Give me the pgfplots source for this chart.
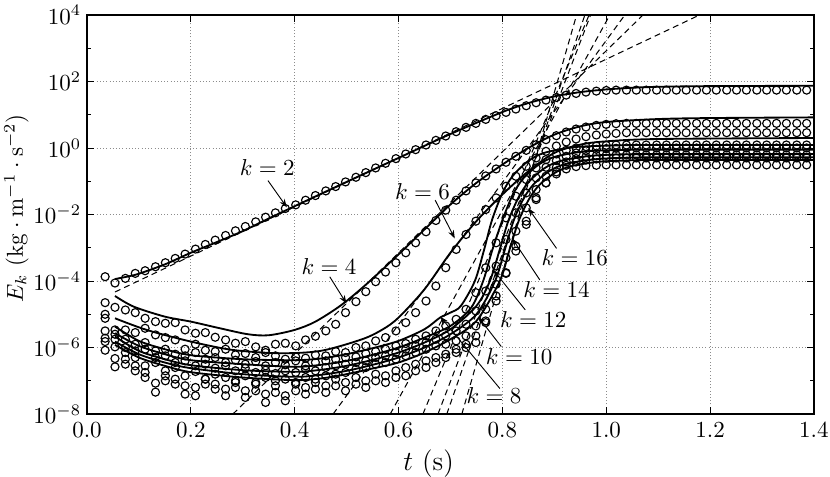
\documentclass[border=0pt]{standalone}
\usepackage{pgfplots}
\pgfplotsset{compat=1.18}
\usepackage{pgfplotstable}
\usetikzlibrary{arrows.meta}

\tikzset{arr/.style={-{Stealth[length=3.6pt,width=2.6pt]}, line width=0.4pt}}

% circle samples, values are log10(E_k)
\pgfplotstableread{
t     c2    c4    c6    c8    c10   c12   c14   c16
0.035 -3.87 -4.65 -5.00 -5.12 -5.50 -5.72 -5.82 -6.08
0.054 -4.06 -4.79 -5.47 -5.60 -5.75 -5.98 -6.33 -6.58
0.074 -3.92 -4.87 -5.47 -5.75 -6.00 -6.15 -6.35 -6.50
0.093 -3.77 -4.95 -5.55 -5.90 -6.10 -6.30 -6.55 -6.70
0.112 -3.69 -5.12 -5.42 -5.85 -6.05 -6.55 -6.75 -6.90
0.132 -3.57 -5.22 -5.62 -6.10 -6.30 -6.45 -7.07 -7.34
0.151 -3.45 -5.27 -5.70 -6.05 -6.25 -6.70 -6.85 -7.00
0.170 -3.32 -5.25 -5.77 -6.20 -6.45 -6.60 -6.95 -7.10
0.189 -3.19 -5.47 -6.05 -6.25 -6.40 -6.85 -7.15 -7.40
0.209 -3.04 -5.57 -5.90 -6.15 -6.55 -6.72 -7.20 -7.45
0.228 -2.90 -5.55 -6.08 -6.35 -6.50 -6.95 -6.95 -7.10
0.247 -2.77 -5.69 -6.12 -6.30 -6.62 -6.80 -7.10 -7.25
0.267 -2.63 -5.77 -6.05 -6.45 -6.55 -6.90 -7.25 -7.45
0.286 -2.49 -5.87 -6.22 -6.38 -6.70 -7.00 -7.05 -7.20
0.305 -2.36 -5.82 -6.18 -6.50 -6.62 -6.85 -7.30 -7.50
0.325 -2.22 -5.98 -6.30 -6.42 -6.75 -7.05 -7.10 -7.30
0.344 -2.08 -6.08 -6.15 -6.55 -6.68 -6.90 -7.40 -7.65
0.363 -1.95 -5.90 -6.25 -6.45 -6.78 -7.00 -7.15 -7.35
0.382 -1.82 -5.87 -6.35 -6.52 -6.70 -6.95 -7.45 -7.60
0.402 -1.71 -5.95 -6.28 -6.40 -6.75 -7.05 -7.10 -7.30
0.421 -1.57 -5.77 -6.32 -6.55 -6.65 -6.90 -7.20 -7.40
0.440 -1.43 -5.66 -6.22 -6.45 -6.70 -6.95 -7.05 -7.25
0.460 -1.29 -5.50 -6.25 -6.40 -6.60 -6.85 -7.15 -7.35
0.479 -1.16 -5.30 -6.12 -6.35 -6.55 -6.80 -6.95 -7.15
0.498 -1.02 -4.95 -6.15 -6.30 -6.50 -6.75 -7.05 -7.30
0.518 -0.88 -4.62 -6.00 -6.28 -6.45 -6.65 -6.90 -7.10
0.537 -0.74 -4.32 -5.95 -6.18 -6.40 -6.60 -7.00 -7.20
0.556 -0.60 -4.02 -5.80 -6.12 -6.30 -6.50 -6.80 -7.00
0.575 -0.46 -3.73 -5.70 -6.05 -6.25 -6.45 -6.85 -7.05
0.595 -0.32 -3.45 -5.50 -5.95 -6.15 -6.35 -6.70 -6.90
0.614 -0.18 -3.15 -5.25 -5.88 -6.05 -6.25 -6.60 -6.85
0.633 -0.05 -2.85 -4.95 -5.75 -5.95 -6.15 -6.50 -6.70
0.653  0.09 -2.52 -4.60 -5.65 -5.85 -6.05 -6.40 -6.60
0.672  0.23 -2.18 -4.15 -5.50 -5.75 -5.95 -6.30 -6.45
0.691  0.36 -1.87 -3.60 -5.35 -5.65 -5.90 -6.20 -6.30
0.711  0.49 -1.57 -3.05 -5.15 -5.50 -5.80 -6.05 -6.15
0.730  0.62 -1.29 -2.60 -4.85 -5.30 -5.65 -5.90 -6.00
0.749  0.74 -1.05 -2.20 -4.35 -4.90 -5.35 -5.65 -5.85
0.768  0.86 -0.84 -1.85 -3.60 -4.30 -4.85 -5.25 -5.20
0.788  0.97 -0.63 -1.50 -2.85 -3.55 -4.10 -4.60 -4.45
0.807  1.07 -0.43 -1.15 -2.10 -2.75 -3.30 -3.75 -3.77
0.826  1.17 -0.25 -0.85 -1.45 -1.95 -2.50 -2.95 -3.10
0.846  1.27 -0.07 -0.55 -0.95 -1.35 -1.80 -2.20 -2.30
0.865  1.36  0.10 -0.30 -0.60 -0.90 -1.25 -1.55 -1.50
0.884  1.44  0.25 -0.10 -0.35 -0.58 -0.85 -1.05 -1.05
0.904  1.52  0.37  0.06 -0.18 -0.38 -0.58 -0.72 -0.78
0.923  1.59  0.48  0.18 -0.07 -0.25 -0.42 -0.52 -0.63
0.942  1.64  0.57  0.27  0.00 -0.15 -0.32 -0.42 -0.56
0.961  1.68  0.63  0.34  0.04 -0.08 -0.26 -0.36 -0.53
0.981  1.71  0.68  0.39  0.06 -0.04 -0.23 -0.33 -0.52
1.000  1.73  0.71  0.42  0.08 -0.02 -0.22 -0.31 -0.51
1.019  1.74  0.73  0.44  0.09 -0.01 -0.21 -0.30 -0.51
1.039  1.74  0.74  0.46  0.09  0.00 -0.21 -0.30 -0.51
1.058  1.74  0.74  0.46  0.09  0.00 -0.21 -0.30 -0.51
1.077  1.74  0.74  0.46  0.09  0.00 -0.21 -0.30 -0.51
1.097  1.74  0.74  0.46  0.09  0.00 -0.21 -0.30 -0.51
1.116  1.74  0.74  0.46  0.09  0.00 -0.21 -0.30 -0.51
1.135  1.74  0.74  0.46  0.09  0.00 -0.21 -0.30 -0.51
1.154  1.74  0.74  0.46  0.09  0.00 -0.21 -0.30 -0.51
1.174  1.74  0.74  0.46  0.09  0.00 -0.21 -0.30 -0.51
1.193  1.74  0.74  0.46  0.09  0.00 -0.21 -0.30 -0.51
1.212  1.74  0.74  0.46  0.09  0.00 -0.21 -0.30 -0.51
1.232  1.74  0.74  0.46  0.09  0.00 -0.21 -0.30 -0.51
1.251  1.74  0.74  0.46  0.09  0.00 -0.21 -0.30 -0.51
1.270  1.74  0.74  0.46  0.09  0.00 -0.21 -0.30 -0.51
1.290  1.74  0.74  0.46  0.09  0.00 -0.21 -0.30 -0.51
1.309  1.74  0.74  0.46  0.09  0.00 -0.21 -0.30 -0.51
1.328  1.74  0.74  0.46  0.09  0.00 -0.21 -0.30 -0.51
1.347  1.74  0.74  0.46  0.09  0.00 -0.21 -0.30 -0.51
1.367  1.74  0.74  0.46  0.09  0.00 -0.21 -0.30 -0.51
1.386  1.74  0.74  0.46  0.09  0.00 -0.21 -0.30 -0.51
}\circles

% solid curves, log10(E_k)
\pgfplotstableread{
t e
0.054 -3.94
0.08 -3.86
0.10 -3.78
0.15 -3.50
0.20 -3.15
0.25 -2.83
0.30 -2.50
0.35 -2.12
0.40 -1.75
0.50 -1.02
0.60 -0.30
0.70 0.42
0.80 1.08
0.85 1.35
0.90 1.55
0.95 1.68
1.00 1.76
1.05 1.81
1.10 1.84
1.20 1.86
1.40 1.87
}\kA
\pgfplotstableread{
t e
0.054 -4.45
0.09 -4.77
0.15 -5.07
0.20 -5.22
0.256 -5.42
0.31 -5.60
0.35 -5.63
0.40 -5.47
0.44 -5.22
0.49 -4.72
0.54 -4.07
0.60 -3.20
0.65 -2.45
0.70 -1.70
0.75 -1.05
0.80 -0.50
0.85 0.00
0.90 0.40
0.95 0.65
1.00 0.78
1.10 0.87
1.20 0.90
1.40 0.92
}\kB
\pgfplotstableread{
t e
0.054 -5.12
0.115 -5.47
0.20 -5.82
0.28 -6.07
0.37 -6.17
0.45 -6.10
0.53 -5.75
0.57 -5.45
0.60 -5.10
0.65 -4.25
0.70 -3.15
0.75 -2.20
0.80 -1.40
0.85 -0.70
0.90 -0.15
0.95 0.10
1.00 0.20
1.10 0.27
1.40 0.30
}\kC
\pgfplotstableread{
t e
0.054 -5.37
0.10 -5.80
0.15 -6.05
0.20 -6.23
0.30 -6.35
0.40 -6.38
0.45 -6.33
0.50 -6.20
0.55 -6.02
0.60 -5.80
0.65 -5.45
0.68 -5.10
0.70 -4.95
0.72 -4.75
0.747 -4.00
0.765 -3.05
0.78 -2.17
0.80 -1.36
0.82 -0.84
0.85 -0.39
0.88 -0.15
0.93 0.01
0.98 0.06
1.08 0.09
1.40 0.09
}\kD
\pgfplotstableread{
t e
0.054 -5.57
0.10 -5.95
0.15 -6.20
0.20 -6.38
0.30 -6.50
0.40 -6.58
0.45 -6.52
0.50 -6.40
0.55 -6.22
0.60 -6.00
0.65 -5.70
0.70 -5.35
0.74 -4.80
0.763 -4.00
0.78 -3.10
0.80 -2.17
0.82 -1.41
0.84 -0.92
0.87 -0.50
0.90 -0.27
0.95 -0.12
1.00 -0.07
1.10 -0.05
1.40 -0.05
}\kE
\pgfplotstableread{
t e
0.054 -5.67
0.10 -6.10
0.15 -6.35
0.20 -6.53
0.30 -6.68
0.40 -6.73
0.45 -6.67
0.50 -6.55
0.55 -6.37
0.60 -6.15
0.65 -5.85
0.70 -5.45
0.75 -4.75
0.776 -4.00
0.795 -3.05
0.812 -2.17
0.832 -1.46
0.852 -1.00
0.882 -0.60
0.912 -0.39
0.962 -0.25
1.012 -0.20
1.10 -0.18
1.40 -0.18
}\kF
\pgfplotstableread{
t e
0.054 -5.82
0.10 -6.20
0.15 -6.45
0.20 -6.62
0.30 -6.80
0.40 -6.88
0.45 -6.82
0.50 -6.70
0.55 -6.52
0.60 -6.30
0.65 -6.00
0.70 -5.60
0.75 -5.00
0.786 -4.00
0.805 -3.05
0.822 -2.17
0.842 -1.49
0.862 -1.06
0.892 -0.68
0.922 -0.48
0.972 -0.35
1.022 -0.30
1.10 -0.28
1.40 -0.28
}\kG
\pgfplotstableread{
t e
0.054 -5.92
0.10 -6.30
0.15 -6.55
0.20 -6.74
0.30 -6.90
0.40 -6.98
0.45 -6.93
0.50 -6.80
0.55 -6.63
0.60 -6.45
0.65 -6.15
0.70 -5.75
0.75 -5.20
0.795 -4.00
0.814 -3.05
0.832 -2.17
0.852 -1.52
0.872 -1.10
0.902 -0.74
0.932 -0.55
0.982 -0.42
1.032 -0.38
1.10 -0.36
1.40 -0.36
}\kH

\begin{document}
\begin{tikzpicture}
\begin{axis}[
  name=ax,
  scale only axis, width=316pt, height=173.5pt,
  xmin=0, xmax=1.4, ymin=1e-8, ymax=1e4, ymode=log,
  xtick={0,0.2,0.4,0.6,0.8,1.0,1.2,1.4},
  ytick={1e-8,1e-6,1e-4,1e-2,1,1e2,1e4},
  minor ytick={1e-7,1e-5,1e-3,1e-1,1e1,1e3},
  xticklabel style={/pgf/number format/.cd, fixed, fixed zerofill, precision=1},
  yticklabel style={xshift=1pt},
  grid=major, grid style={densely dotted, black!45, line width=0.4pt},
  tick align=inside, major tick length=3pt, minor tick length=1.6pt,
  tick style={black, line width=0.4pt},
  axis line style={line width=0.7pt},
  xlabel={$t$ (s)},
  ylabel={$E_k\ (\mathrm{kg}\cdot\mathrm{m}^{-1}\cdot\mathrm{s}^{-2})$},
  xlabel style={at={(rel axis cs:0.47,-0.125)}, anchor=center, font=\large},
  ylabel style={at={(rel axis cs:-0.097,0.515)}, anchor=center},
  every axis plot/.append style={black},
  lin/.style={line width=0.8pt, smooth, no markers},
  cir/.style={only marks, mark=o, mark size=1.75pt, mark options={line width=0.5pt}},
  fit/.style={line width=0.45pt, dash pattern=on 2.6pt off 1.8pt, no markers},
]
% dashed fits
\addplot[fit] coordinates {(0.054,4.68e-5) (1.18,1e4)};
\addplot[fit] coordinates {(0.281,1e-8) (1.071,1e4)};
\addplot[fit] coordinates {(0.474,1e-8) (1.036,1e4)};
\addplot[fit] coordinates {(0.584,1e-8) (1.007,1e4)};
\addplot[fit] coordinates {(0.647,1e-8) (0.967,1e4)};
\addplot[fit] coordinates {(0.676,1e-8) (0.970,1e4)};
\addplot[fit] coordinates {(0.693,1e-8) (0.959,1e4)};
\addplot[fit] coordinates {(0.722,1e-8) (0.943,1e4)};
% circles
\addplot[cir] table[x=t, y expr={10^(\thisrow{c2})}] {\circles};
\addplot[cir] table[x=t, y expr={10^(\thisrow{c4})}] {\circles};
\addplot[cir] table[x=t, y expr={10^(\thisrow{c6})}] {\circles};
\addplot[cir] table[x=t, y expr={10^(\thisrow{c8})}] {\circles};
\addplot[cir] table[x=t, y expr={10^(\thisrow{c10})}] {\circles};
\addplot[cir] table[x=t, y expr={10^(\thisrow{c12})}] {\circles};
\addplot[cir] table[x=t, y expr={10^(\thisrow{c14})}] {\circles};
\addplot[cir] table[x=t, y expr={10^(\thisrow{c16})}] {\circles};
% solid curves
\addplot[lin] table[x=t, y expr={10^(\thisrow{e})}] {\kA};
\addplot[lin] table[x=t, y expr={10^(\thisrow{e})}] {\kB};
\addplot[lin] table[x=t, y expr={10^(\thisrow{e})}] {\kC};
\addplot[lin] table[x=t, y expr={10^(\thisrow{e})}] {\kD};
\addplot[lin] table[x=t, y expr={10^(\thisrow{e})}] {\kE};
\addplot[lin] table[x=t, y expr={10^(\thisrow{e})}] {\kF};
\addplot[lin] table[x=t, y expr={10^(\thisrow{e})}] {\kG};
\addplot[lin] table[x=t, y expr={10^(\thisrow{e})}] {\kH};
% labels
\node at (rel axis cs:0.248,0.618) {$k=2$};
\draw[arr] (rel axis cs:0.249,0.585) -- (rel axis cs:0.275,0.518);
\node at (rel axis cs:0.333,0.370) {$k=4$};
\draw[arr] (rel axis cs:0.334,0.344) -- (rel axis cs:0.357,0.277);
\node at (rel axis cs:0.4615,0.557) {$k=6$};
\draw[arr] (rel axis cs:0.479,0.536) -- (rel axis cs:0.506,0.440);
\node at (rel axis cs:0.560,0.046) {$k=8$};
\draw[arr] (rel axis cs:0.568,0.064) -- (rel axis cs:0.486,0.244);
\node at (rel axis cs:0.5945,0.144) {$k=10$};
\draw[arr] (rel axis cs:0.570,0.169) -- (rel axis cs:0.538,0.244);
\node at (rel axis cs:0.614,0.238) {$k=12$};
\draw[arr] (rel axis cs:0.603,0.261) -- (rel axis cs:0.559,0.361);
\node at (rel axis cs:0.646,0.311) {$k=14$};
\draw[arr] (rel axis cs:0.623,0.336) -- (rel axis cs:0.585,0.440);
\node at (rel axis cs:0.671,0.392) {$k=16$};
\draw[arr] (rel axis cs:0.646,0.415) -- (rel axis cs:0.607,0.516);
\end{axis}
\pgfresetboundingbox
\useasboundingbox ([xshift=-37.8pt,yshift=-27pt]ax.south west) rectangle ([xshift=7pt,yshift=6.5pt]ax.north east);
\end{tikzpicture}
\end{document}
